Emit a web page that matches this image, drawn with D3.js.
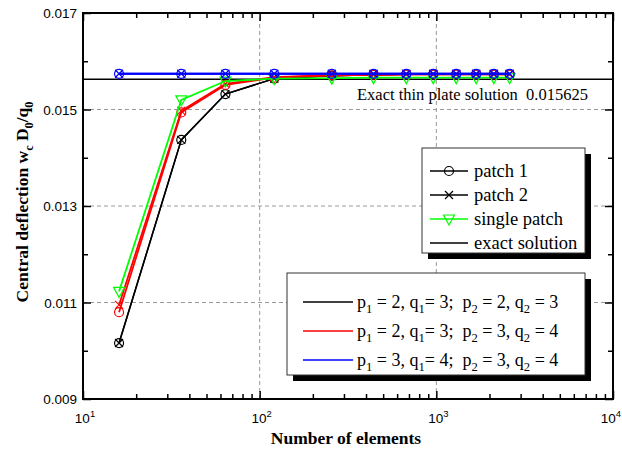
<!DOCTYPE html>
<html>
<head>
<meta charset="utf-8">
<script src="https://cdn.jsdelivr.net/npm/d3@7"></script>
<style>
  body { margin: 0; background: #fff; }
  text { white-space: pre; }
</style>
</head>
<body>
<div id="chart"></div>
<script>
// number of elements (x values)
var elements = [16, 36, 64, 121, 256, 441, 676, 961, 1296, 1681, 2116, 2601];

// p1=2,q1=3; p2=2,q2=3
var caseA_patch1 = [0.01016, 0.01437, 0.01532, 0.01564, 0.01570, 0.01572, 0.01573, 0.01573, 0.01573, 0.01573, 0.01573, 0.01573];
var caseA_patch2 = [0.01016, 0.01437, 0.01532, 0.01564, 0.01570, 0.01572, 0.01573, 0.01573, 0.01573, 0.01573, 0.01573, 0.01573];
// p1=2,q1=3; p2=3,q2=4
var caseB_patch1 = [0.01080, 0.01494, 0.01551, 0.01566, 0.01571, 0.01572, 0.01573, 0.01573, 0.01573, 0.01573, 0.01573, 0.01573];
var caseB_patch2 = [0.01095, 0.01497, 0.01553, 0.01567, 0.01571, 0.01572, 0.01573, 0.01573, 0.01573, 0.01573, 0.01573, 0.01573];
// p1=3,q1=4; p2=3,q2=4
var caseC_patch1 = [0.01574, 0.01574, 0.01574, 0.01574, 0.01574, 0.01574, 0.01574, 0.01574, 0.01574, 0.01574, 0.01574, 0.01574];
var caseC_patch2 = [0.01574, 0.01574, 0.01574, 0.01574, 0.01574, 0.01574, 0.01574, 0.01574, 0.01574, 0.01574, 0.01574, 0.01574];
// single patch
var singlePatch = [0.01123, 0.01520, 0.01559, 0.01564, 0.01565, 0.01566, 0.01566, 0.01566, 0.01566, 0.01566, 0.01566, 0.01566];

var exactValue = 0.015625;

var yTicks = [0.009, 0.011, 0.013, 0.015, 0.017];
var yTickLabels = ["0.009", "0.011", "0.013", "0.015", "0.017"];
var yMinorTicks = [0.010, 0.012, 0.014, 0.016];
var xTicks = [10, 100, 1000, 10000];
var xTickLabels = ["10^{1}", "10^{2}", "10^{3}", "10^{4}"];

var markerLegend = ["patch 1", "patch 2", "single patch", "exact solution"];
var caseLegend = ["p_{1} = 2, q_{1}= 3;  p_{2} = 2, q_{2} = 3",
                  "p_{1} = 2, q_{1}= 3;  p_{2} = 3, q_{2} = 4",
                  "p_{1} = 3, q_{1}= 4;  p_{2} = 3, q_{2} = 4"];

var W = 622, H = 452;
var margin = {top: 13, right: 9, bottom: 53, left: 83};
var serif = "'Liberation Serif', 'Times New Roman', serif";
var sans = "'Liberation Sans', Arial, sans-serif";

var svg = d3.select("#chart").append("svg")
    .attr("width", W)
    .attr("height", H);

var x = d3.scaleLog()
    .domain([10, 10000])
    .range([margin.left, W - margin.right]);
var y = d3.scaleLinear()
    .domain([0.009, 0.017])
    .range([H - margin.bottom, margin.top]);

// write text with _{sub} and ^{sup} parts
function richText(sel, str, size, shift) {
  var parts = str.split(/([_^]\{[^}]*\})/).filter(function(s) { return s.length; });
  var offset = 0;
  parts.forEach(function(p) {
    var t = sel.append("tspan");
    if (p[0] == "_" || p[0] == "^") {
      var d = p[0] == "_" ? shift : -shift;
      t.attr("dy", d - offset).attr("font-size", size * 0.7).text(p.slice(2, -1));
      offset = d;
    } else {
      t.attr("dy", -offset).text(p);
      offset = 0;
    }
  });
}

// grid lines
var grid = svg.append("g")
    .attr("stroke", "#999")
    .attr("stroke-width", 1)
    .attr("stroke-dasharray", "4,3");
grid.selectAll(".gx")
    .data([100, 1000])
  .enter().append("line")
    .attr("x1", function(d) { return x(d); })
    .attr("x2", function(d) { return x(d); })
    .attr("y1", y(0.009))
    .attr("y2", y(0.017));
grid.selectAll(".gy")
    .data([0.011, 0.013, 0.015])
  .enter().append("line")
    .attr("x1", x(10))
    .attr("x2", x(10000))
    .attr("y1", function(d) { return y(d); })
    .attr("y2", function(d) { return y(d); });

// axes (ticks pointing inward on all four sides)
var xMinor = [];
[10, 100, 1000].forEach(function(b) { for (var k = 2; k < 10; k++) xMinor.push(b * k); });

function xAxis(gen, ty) {
  svg.append("g").attr("transform", "translate(0," + ty + ")")
      .call(gen(x).tickValues(xTicks).tickSize(8).tickFormat(""))
      .call(function(g) { g.select(".domain").remove(); });
  svg.append("g").attr("transform", "translate(0," + ty + ")")
      .call(gen(x).tickValues(xMinor).tickSize(5).tickFormat(""))
      .call(function(g) { g.select(".domain").remove(); });
}
xAxis(d3.axisTop, y(0.009));
xAxis(d3.axisBottom, y(0.017));

function yAxis(gen, tx) {
  svg.append("g").attr("transform", "translate(" + tx + ",0)")
      .call(gen(y).tickValues(yTicks).tickSize(8).tickFormat(""))
      .call(function(g) { g.select(".domain").remove(); });
  svg.append("g").attr("transform", "translate(" + tx + ",0)")
      .call(gen(y).tickValues(yMinorTicks).tickSize(5).tickFormat(""))
      .call(function(g) { g.select(".domain").remove(); });
}
yAxis(d3.axisRight, x(10));
yAxis(d3.axisLeft, x(10000));
svg.selectAll(".tick line").attr("stroke", "#000").attr("stroke-width", 1.5);

svg.append("rect")
    .attr("x", x(10))
    .attr("y", y(0.017))
    .attr("width", x(10000) - x(10))
    .attr("height", y(0.009) - y(0.017))
    .attr("fill", "none")
    .attr("stroke", "#000")
    .attr("stroke-width", 2);

// tick labels
svg.selectAll(".ylab")
    .data(yTicks)
  .enter().append("text")
    .attr("x", x(10) - 6)
    .attr("y", function(d) { return y(d) + 5; })
    .attr("text-anchor", "end")
    .attr("font-family", sans)
    .attr("font-size", 13.5)
    .text(function(d, i) { return yTickLabels[i]; });

xTicks.forEach(function(d, i) {
  var t = svg.append("text")
      .attr("x", x(d) - 8)
      .attr("y", y(0.009) + 24)
      .attr("text-anchor", "start")
      .attr("font-family", sans)
      .attr("font-size", 13.5);
  richText(t, xTickLabels[i], 13.5, 6);
  // center label on the tick, keep it inside the page
  var bb = t.node().getBBox();
  var lx = Math.min(x(d) - bb.width / 2 + 2, W - 1 - bb.width);
  t.attr("x", lx);
});

// axis titles
svg.append("text")
    .attr("x", 346)
    .attr("y", 444)
    .attr("text-anchor", "middle")
    .attr("font-family", serif)
    .attr("font-weight", "bold")
    .attr("font-size", 17.5)
    .text("Number of elements");

var yt = svg.append("text")
    .attr("transform", "translate(28,202) rotate(-90)")
    .attr("text-anchor", "middle")
    .attr("font-family", serif)
    .attr("font-weight", "bold")
    .attr("font-size", 17.5);
richText(yt, "Central deflection w_{c} D_{0}/q_{0}", 17.5, 5);

// exact solution line
svg.append("line")
    .attr("x1", x(10))
    .attr("x2", x(10000))
    .attr("y1", y(exactValue))
    .attr("y2", y(exactValue))
    .attr("stroke", "#000")
    .attr("stroke-width", 1.5);

svg.append("text")
    .attr("x", 357)
    .attr("y", y(exactValue) + 21)
    .attr("font-family", serif)
    .attr("font-size", 16.5)
    .text("Exact thin plate solution  0.015625");

// series
var line = d3.line()
    .x(function(d, i) { return x(elements[i]); })
    .y(function(d) { return y(d); });

function drawMarker(g, kind, color) {
  if (kind == "circle") {
    g.append("circle").attr("r", 4.5)
        .attr("fill", "none").attr("stroke", color).attr("stroke-width", 1.2);
  } else if (kind == "cross") {
    g.append("path").attr("d", "M-4,-4L4,4M-4,4L4,-4")
        .attr("fill", "none").attr("stroke", color).attr("stroke-width", 1.2);
  } else if (kind == "tri") {
    g.append("path").attr("d", "M-5.5,-4L5.5,-4L0,6Z")
        .attr("fill", "none").attr("stroke", color).attr("stroke-width", 1.2);
  }
}

var series = [
  {values: caseA_patch1, color: "#000", marker: "circle", width: 1.5},
  {values: caseA_patch2, color: "#000", marker: "cross", width: 1.5},
  {values: caseB_patch1, color: "#f00", marker: "circle", width: 1.8},
  {values: caseB_patch2, color: "#f00", marker: "cross", width: 1.8},
  {values: singlePatch, color: "#0f0", marker: "tri", width: 1.8},
  {values: caseC_patch1, color: "#00f", marker: "circle", width: 2},
  {values: caseC_patch2, color: "#00f", marker: "cross", width: 2}
];

series.forEach(function(s) {
  svg.append("path")
      .datum(s.values)
      .attr("fill", "none")
      .attr("stroke", s.color)
      .attr("stroke-width", s.width)
      .attr("d", line);
  svg.selectAll(null)
      .data(s.values)
    .enter().append("g")
      .attr("transform", function(d, i) { return "translate(" + x(elements[i]) + "," + y(d) + ")"; })
      .each(function() { drawMarker(d3.select(this), s.marker, s.color); });
});

// legend boxes with drop shadow
function legendBox(bx, by, bw, bh) {
  svg.append("rect").attr("x", bx + 6).attr("y", by + 6)
      .attr("width", bw).attr("height", bh).attr("fill", "#000");
  svg.append("rect").attr("x", bx).attr("y", by)
      .attr("width", bw).attr("height", bh)
      .attr("fill", "#fff").attr("stroke", "#333").attr("stroke-width", 1);
}

legendBox(422, 148, 163, 105);
var legendColors = ["#000", "#000", "#0f0", "#000"];
var legendMarkers = ["circle", "cross", "tri", "none"];
markerLegend.forEach(function(name, i) {
  var ly = 171 + i * 24;
  svg.append("line").attr("x1", 430).attr("x2", 468)
      .attr("y1", ly).attr("y2", ly)
      .attr("stroke", legendColors[i]).attr("stroke-width", 1.3);
  var g = svg.append("g").attr("transform", "translate(449," + ly + ")");
  drawMarker(g, legendMarkers[i], legendColors[i]);
  svg.append("text").attr("x", 474).attr("y", ly + 6)
      .attr("font-family", serif).attr("font-size", 18.5)
      .text(name);
});

legendBox(287, 273, 298, 102);
var caseColors = ["#000", "#f00", "#00f"];
caseLegend.forEach(function(name, i) {
  var ly = 302 + i * 29;
  svg.append("line").attr("x1", 303).attr("x2", 353)
      .attr("y1", ly).attr("y2", ly)
      .attr("stroke", caseColors[i]).attr("stroke-width", 1.3);
  var t = svg.append("text").attr("x", 357).attr("y", ly + 6)
      .attr("font-family", serif).attr("font-size", 18);
  richText(t, name, 18, 5);
});
</script>
</body>
</html>
